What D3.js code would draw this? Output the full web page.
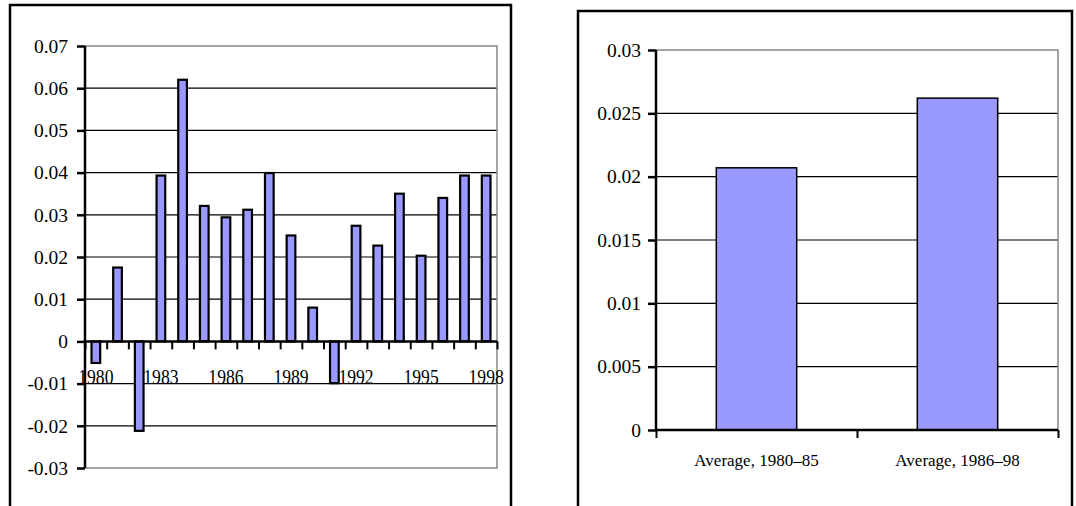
<!DOCTYPE html>
<html lang="en">
<head>
  <meta charset="UTF-8">
  <script src="https://cdn.jsdelivr.net/npm/d3@7"></script>
  <title>Growth bars</title>
  <style>
    body { margin: 0; background: #fff; }
    svg { display: block; }
    text { font-family: "Liberation Serif", "Times New Roman", serif; fill: #000; }
    .domain { display: none; }
  </style>
</head>
<body>
  <script>
    // data
    const years = d3.range(1980, 1999);
    const growth = [-0.0051, 0.0175, -0.0212, 0.0393, 0.062, 0.0321, 0.0294, 0.0312, 0.0399, 0.0251,
      0.008, -0.0099, 0.0274, 0.0227, 0.035, 0.0203, 0.034, 0.0393, 0.0393];
    const yearLabels = [1980, 1983, 1986, 1989, 1992, 1995, 1998];
    const leftTicks = [-0.03, -0.02, -0.01, 0, 0.01, 0.02, 0.03, 0.04, 0.05, 0.06, 0.07];

    const avgLabels = ["Average, 1980\u201385", "Average, 1986\u201398"];
    const avgValues = [0.0207, 0.0262];
    const rightTicks = [0, 0.005, 0.01, 0.015, 0.02, 0.025, 0.03];

    const barFill = "#9999ff";
    const svg = d3.select("body").append("svg").attr("width", 1076).attr("height", 506);

    function drawPanel(opt) {
      const g = svg.append("g");
      // outer frame, bottom runs off the page
      g.append("rect")
        .attr("x", opt.frame[0]).attr("y", opt.frame[1])
        .attr("width", opt.frame[2]).attr("height", 540)
        .attr("fill", "none").attr("stroke", "#000").attr("stroke-width", 2.5);

      const y = d3.scaleLinear().domain(opt.yDomain).range([opt.bottom, opt.top]);
      const x = d3.scaleBand().domain(opt.cats).range([opt.left, opt.right])
        .paddingInner(0.6).paddingOuter(0.3);
      const xb = d3.scaleLinear().domain([0, opt.cats.length]).range([opt.left, opt.right]);

      // gridlines
      g.append("g").selectAll("line")
        .data(opt.ticks.filter(t => t !== 0 && t !== opt.yDomain[0] && t !== opt.yDomain[1]))
        .join("line")
        .attr("x1", opt.left).attr("x2", opt.right)
        .attr("y1", d => y(d)).attr("y2", d => y(d))
        .attr("stroke", "#000").attr("stroke-width", 1.2);

      // plot area frame (grey)
      g.append("path")
        .attr("d", `M${opt.left},${y(opt.yDomain[1])}H${opt.right}V${y(opt.yDomain[0])}H${opt.left}`)
        .attr("fill", "none").attr("stroke", "#888").attr("stroke-width", 1.5);

      // bars
      g.append("g").selectAll("rect")
        .data(opt.values)
        .join("rect")
        .attr("x", (d, i) => x(opt.cats[i]))
        .attr("width", x.bandwidth())
        .attr("y", d => y(Math.max(0, d)))
        .attr("height", d => Math.abs(y(d) - y(0)))
        .attr("fill", barFill).attr("stroke", "#000").attr("stroke-width", opt.barStroke);

      // value axis
      const ya = g.append("g").attr("transform", `translate(${opt.left},0)`)
        .attr("font-family", null).attr("font-size", null)
        .call(d3.axisLeft(y).tickValues(opt.ticks).tickSize(8).tickPadding(opt.yPad).tickFormat(opt.fmt));
      ya.attr("font-family", null).attr("font-size", null);
      ya.selectAll(".tick line").attr("stroke", "#000").attr("stroke-width", 2.5);
      ya.selectAll(".tick text").style("font-size", "19.5px");
      g.append("line")
        .attr("x1", opt.left).attr("x2", opt.left)
        .attr("y1", y(opt.yDomain[1])).attr("y2", y(opt.yDomain[0]))
        .attr("stroke", "#000").attr("stroke-width", 2.5);

      // category axis on zero line
      const xa = g.append("g").attr("transform", `translate(0,${y(0)})`)
        .call(d3.axisBottom(xb).tickValues(d3.range(opt.cats.length + 1)).tickSize(8).tickFormat(""));
      xa.selectAll(".tick line").attr("stroke", "#000").attr("stroke-width", 2);
      g.append("line")
        .attr("x1", opt.left).attr("x2", opt.right)
        .attr("y1", y(0)).attr("y2", y(0))
        .attr("stroke", "#000").attr("stroke-width", 2.5);

      const xl = g.append("g").attr("transform", `translate(0,${y(0)})`)
        .call(d3.axisBottom(x).tickSize(0).tickPadding(opt.xPad)
          .tickValues(opt.labelCats).tickFormat(opt.catFmt));
      xl.attr("font-family", null).attr("font-size", null);
      xl.selectAll(".tick text")
        .style("font-size", opt.xFont + "px")
        .attr("transform", `scale(${opt.xSquash},1)`);
    }

    drawPanel({
      frame: [10, 5, 501],
      left: 85, right: 497, top: 46, bottom: 468,
      yDomain: [-0.03, 0.07], ticks: leftTicks,
      fmt: d => d === 0 ? "0" : d.toFixed(2),
      cats: years, values: growth, labelCats: yearLabels, catFmt: d => d,
      barStroke: 2.2, yPad: 9, xPad: 27, xFont: 22, xSquash: 0.8
    });

    drawPanel({
      frame: [578, 11, 494],
      left: 656, right: 1058, top: 50, bottom: 430,
      yDomain: [0, 0.03], ticks: rightTicks,
      fmt: d => d === 0 ? "0" : String(+d.toFixed(3)),
      cats: avgLabels, values: avgValues, labelCats: avgLabels, catFmt: d => d,
      barStroke: 1.5, yPad: 7, xPad: 24, xFont: 17, xSquash: 1
    });
  </script>
</body>
</html>
